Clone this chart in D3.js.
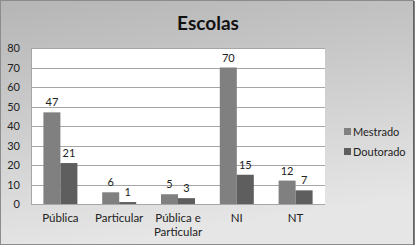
<!DOCTYPE html>
<html>
<head>
<meta charset="utf-8">
<script src="https://cdn.jsdelivr.net/npm/d3@7"></script>
<style>
  body { margin: 0; background: #fff; }
  svg { display: block; font-family: Lato, "Open Sans", sans-serif; }
</style>
</head>
<body>
<svg id="chart" width="417" height="247"></svg>
<script>
var categories = [["Pública"], ["Particular"], ["Pública e", "Particular"], ["NI"], ["NT"]];
var seriesNames = ["Mestrado", "Doutorado"];
var mestrado = [47, 6, 5, 70, 12];
var doutorado = [21, 1, 3, 15, 7];
var yTicks = [0, 10, 20, 30, 40, 50, 60, 70, 80];
var colors = ["#808080", "#5e5e5e"];

var svg = d3.select('#chart');
var W = 417, H = 247;
var plot = { left: 31, right: 325, top: 48, bottom: 204 };

var defs = svg.append('defs');
var grad = defs.append('linearGradient').attr('id', 'bg').attr('x1', 0).attr('y1', 0).attr('x2', 0.25).attr('y2', 1);
grad.append('stop').attr('offset', '0%').attr('stop-color', '#b5b5b5');
grad.append('stop').attr('offset', '100%').attr('stop-color', '#e6e6e6');

svg.append('rect').attr('x', 0.5).attr('y', 0.5).attr('width', W - 4).attr('height', H - 3)
  .attr('fill', 'url(#bg)').attr('stroke', '#8c8c8c');
svg.append('line').attr('x1', W - 3).attr('x2', W - 3).attr('y1', 1).attr('y2', H - 2)
  .attr('stroke', '#555').attr('stroke-width', 1.5);

svg.append('text').attr('x', 208).attr('y', 30).attr('text-anchor', 'middle')
  .attr('font-size', 19).attr('font-weight', 'bold').attr('fill', '#111').text('Escolas');

var x0 = d3.scaleBand().domain(d3.range(categories.length)).range([plot.left, plot.right]).paddingInner(0).paddingOuter(0);
var y = d3.scaleLinear().domain([0, 80]).range([plot.bottom, plot.top]);
var bw = 17;

svg.append('rect').attr('x', plot.left).attr('y', plot.top)
  .attr('width', plot.right - plot.left).attr('height', plot.bottom - plot.top).attr('fill', '#fff');

svg.append('g').selectAll('line').data(yTicks).enter().append('line')
  .attr('x1', plot.left).attr('x2', plot.right)
  .attr('y1', function(d) { return Math.round(y(d)) + 0.5; })
  .attr('y2', function(d) { return Math.round(y(d)) + 0.5; })
  .attr('stroke', '#a6a6a6').attr('stroke-width', 1);

svg.append('line').attr('x1', plot.left + 0.5).attr('x2', plot.left + 0.5)
  .attr('y1', plot.top).attr('y2', plot.bottom).attr('stroke', '#a6a6a6');

svg.append('g').selectAll('text').data(yTicks).enter().append('text')
  .attr('x', 20).attr('y', function(d) { return y(d) + 4; })
  .attr('text-anchor', 'end').attr('font-size', 11).attr('fill', '#222')
  .text(function(d) { return d; });

var series = [mestrado, doutorado];
series.forEach(function(vals, s) {
  var g = svg.append('g');
  g.selectAll('rect').data(vals).enter().append('rect')
    .attr('x', function(d, i) { return x0(i) + x0.bandwidth() / 2 - bw + s * bw; })
    .attr('y', function(d) { return y(d); })
    .attr('width', bw)
    .attr('height', function(d) { return y(0) - y(d); })
    .attr('fill', colors[s]);
  g.selectAll('text').data(vals).enter().append('text')
    .attr('x', function(d, i) { return x0(i) + x0.bandwidth() / 2 - bw / 2 + s * bw; })
    .attr('y', function(d) { return y(d) - 6; })
    .attr('text-anchor', 'middle').attr('font-size', 11).attr('fill', '#222')
    .text(function(d) { return d; });
});

var xl = svg.append('g').selectAll('text').data(categories).enter().append('text')
  .attr('x', function(d, i) { return x0(i) + x0.bandwidth() / 2; })
  .attr('y', 222).attr('text-anchor', 'middle').attr('font-size', 11.5).attr('fill', '#222');
xl.selectAll('tspan').data(function(d) { return d; }).enter().append('tspan')
  .attr('x', function() { return d3.select(this.parentNode).attr('x'); })
  .attr('dy', function(d, i) { return i ? 14 : 0; })
  .text(function(d) { return d; });

var leg = svg.append('g').selectAll('g').data(seriesNames).enter().append('g')
  .attr('transform', function(d, i) { return 'translate(344,' + (132 + i * 20) + ')'; });
leg.append('rect').attr('x', 0).attr('y', -4).attr('width', 7).attr('height', 7)
  .attr('fill', function(d, i) { return colors[i]; });
leg.append('text').attr('x', 9).attr('y', 4).attr('font-size', 11).attr('fill', '#222')
  .text(function(d) { return d; });
</script>
</body>
</html>
